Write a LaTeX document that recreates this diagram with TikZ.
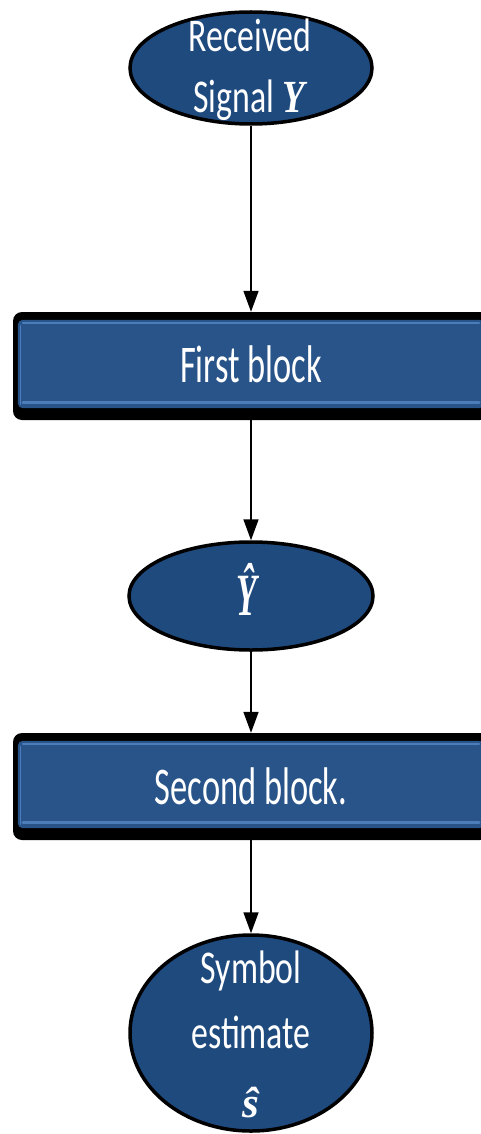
\documentclass[tikz,border=0pt]{standalone}
\usepackage{fontspec}
\usepackage{graphicx}
\usetikzlibrary{shapes.geometric,arrows.meta,calc}

% condensed sans for the labels, serif italic for the symbols
\newfontfamily\ellfont[FakeStretch=0.72]{Carlito}
\newfontfamily\boxfont[FakeStretch=0.65]{Carlito}
\newfontfamily\symfont{Liberation Serif}

\definecolor{ellblue}{HTML}{1F4A7E}
\definecolor{boxblue}{HTML}{295489}
\definecolor{bevel}{HTML}{4C7DBA}

\tikzset{
  oval/.style={ellipse, draw=black, line width=3.5pt, fill=ellblue, inner sep=0pt},
  frame/.style={rectangle, rounded corners=9pt, fill=black,
                minimum width=476pt, minimum height=108pt, inner sep=0pt},
  etext/.style={text=white, anchor=base, inner sep=0pt,
                font=\ellfont\fontsize{47}{56}\selectfont},
  btext/.style={text=white, anchor=base, inner sep=0pt,
                font=\boxfont\fontsize{53}{60}\selectfont},
  stext/.style={text=white, anchor=base, inner sep=0pt},
  flow/.style={line width=1.6pt, -{Triangle[width=15pt,length=21pt]}},
  face/.style={fill=boxblue, rounded corners=5pt},
  glint/.style={draw=bevel, line cap=round},
}

\newcommand{\bevelbox}[1]{%
  \fill[face] ($(#1.north west)+(5,8)$) rectangle ($(#1.south east)+(-5,-12)$);
  \draw[glint, line width=2pt] ($(#1.north west)+(10,11)$) -- ($(#1.north east)+(-10,11)$);
  \draw[glint, line width=3pt] ($(#1.south west)+(10,-18)$) -- ($(#1.south east)+(-10,-18)$);
  \draw[glint, line width=1.5pt] ($(#1.north west)+(7.5,14)$) -- ($(#1.south west)+(7.5,-16)$);
}

\begin{document}
\begin{tikzpicture}[x=1pt,y=-1pt]
  \useasboundingbox (0,0) rectangle (481,1134);
  \clip (0,0) rectangle (481,1134);

  % shapes
  \node[oval, minimum width=242pt, minimum height=112pt] (recv) at (251,68) {};
  \node[frame] (first) at (251,366) {};
  \bevelbox{first}
  \node[oval, minimum width=244pt, minimum height=108pt] (yhat) at (251,596) {};
  \node[frame, minimum height=107pt] (second) at (251,786.5) {};
  \bevelbox{second}
  \node[oval, minimum width=242pt, minimum height=196pt] (shat) at (251,1033) {};

  % connectors
  \draw[flow] (recv) -- (first);
  \draw[flow] (first) -- (yhat);
  \draw[flow] (yhat) -- (second);
  \draw[flow] (second) -- (shat);

  % labels
  \node[etext] (recvA) at (250,52) {Received};
  \node[etext] (recvB) at (249,113) {Signal \scalebox{0.8}[1]{\symfont\bfseries\itshape\fontsize{46}{50}\selectfont Y}};
  \node[btext] (firstT) at ($(first.center)+(0,16)$) {First block};
  \node[stext] (yhatT) at (247,615) {\scalebox{0.56}[1]{\symfont\bfseries\itshape\fontsize{60}{60}\selectfont Ŷ}};
  \node[btext] (secondT) at ($(second.center)+(0,18)$) {Second block.};
  \node[etext] (shatA) at (251,983) {Symbol};
  \node[etext] (shatB) at (251,1048) {estimate};
  \node[stext] (shatC) at (251,1117) {\symfont\bfseries\itshape\fontsize{43}{43}\selectfont ŝ};
\end{tikzpicture}
\end{document}
